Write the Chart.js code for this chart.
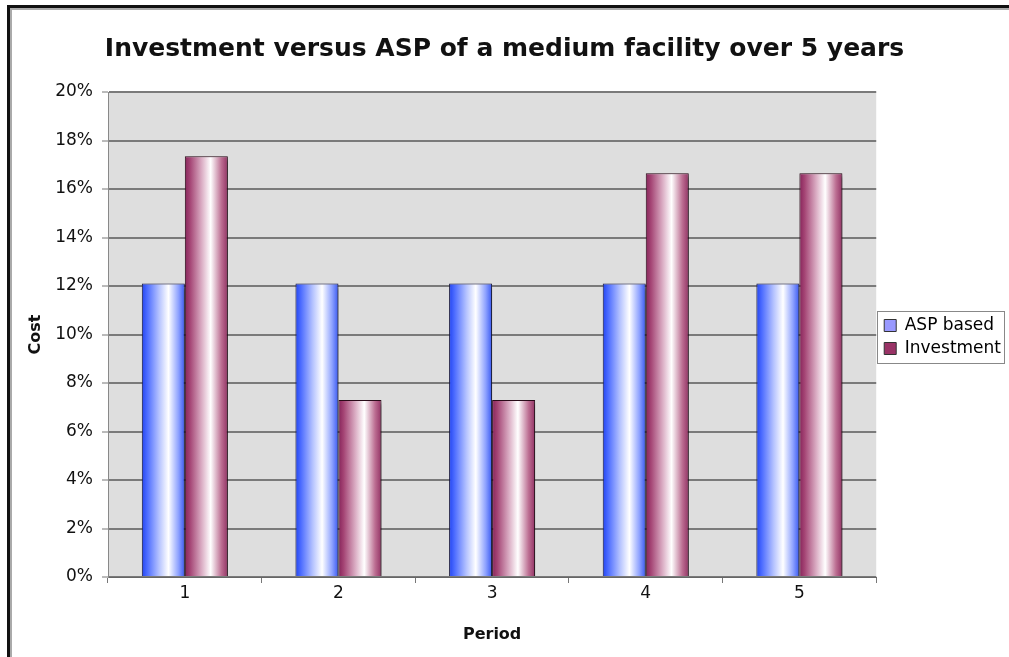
<!DOCTYPE html>
<html>
<head>
<meta charset="utf-8">
<script src="https://cdn.jsdelivr.net/npm/chart.js@4.4.0/dist/chart.umd.min.js"></script>
<style>
  html, body { margin: 0; padding: 0; background: #fff; }
  #frame { position: absolute; left: 7px; top: 5px; width: 1100px; height: 700px;
           border-left: 3px solid #111; border-top: 3px solid #111;
           box-shadow: inset 2px 2px 0 #aaa; }
  #wrap { position: absolute; left: 0; top: 0; width: 1009px; height: 657px; }
</style>
</head>
<body>
<div id="frame"></div>
<div id="wrap"><canvas id="chart" width="1009" height="657"></canvas></div>
<script>
const periods = ['1', '2', '3', '4', '5'];
const aspBased = [12.1, 12.1, 12.1, 12.1, 12.1];
const investment = [17.35, 7.3, 7.3, 16.65, 16.65];
const yTicks = [0, 2, 4, 6, 8, 10, 12, 14, 16, 18, 20];

const catPct = 0.56;
const font = "'DejaVu Sans', Verdana, sans-serif";

// horizontal "cylinder" shading for each bar, worked out from the category scale
function barGradient(stops, flat) {
  return ctx => {
    const chart = ctx.chart;
    const x = chart.scales.x;
    if (ctx.type !== 'data' || !x) return flat;
    const catW = x.width / periods.length;
    const barW = catW * catPct / 2;
    const left = x.getPixelForValue(ctx.dataIndex) - catW * catPct / 2 + ctx.datasetIndex * barW;
    const g = chart.ctx.createLinearGradient(left, 0, left + barW, 0);
    stops.forEach(s => g.addColorStop(s[0], s[1]));
    return g;
  };
}

const blueStops = [[0, '#2244f0'], [0.12, '#4a6aff'], [0.4, '#b4c2ff'], [0.62, '#ffffff'], [0.85, '#8ea2ff'], [1, '#3858f2']];
const plumStops = [[0, '#86245a'], [0.12, '#a44474'], [0.4, '#dcb0c6'], [0.6, '#ffffff'], [0.85, '#bc6e92'], [1, '#923264']];

const plotBg = {
  id: 'plotBg',
  beforeDraw(chart) {
    const { ctx, chartArea: a } = chart;
    ctx.save();
    ctx.fillStyle = '#dedede';
    ctx.fillRect(a.left, a.top, a.right - a.left, a.bottom - a.top);
    ctx.restore();
  }
};

const barShadow = {
  id: 'barShadow',
  beforeDatasetsDraw(chart) {
    const ctx = chart.ctx;
    ctx.save();
    ctx.shadowColor = 'rgba(0,0,0,0.45)';
    ctx.shadowOffsetX = 3;
    ctx.shadowOffsetY = 3;
    ctx.shadowBlur = 4;
  },
  afterDatasetsDraw(chart) {
    chart.ctx.restore();
  }
};

// nudge the legend a little lower, like the original, then frame its items
const legendBox = {
  id: 'legendBox',
  afterLayout(chart) {
    const l = chart.legend;
    l.top += 13; l.bottom += 13;
    l.left += 2; l.right += 2;
  },
  afterDraw(chart) {
    const boxes = chart.legend.legendHitBoxes;
    if (!boxes || !boxes.length) return;
    const left = Math.min(...boxes.map(b => b.left)) - 7;
    const top = Math.min(...boxes.map(b => b.top)) - 6;
    const right = Math.max(...boxes.map(b => b.left + b.width)) + 3;
    const bottom = Math.max(...boxes.map(b => b.top + b.height)) + 6;
    const ctx = chart.ctx;
    ctx.save();
    ctx.strokeStyle = '#888';
    ctx.lineWidth = 1;
    ctx.strokeRect(Math.round(left) + 0.5, Math.round(top) + 0.5, Math.round(right - left), Math.round(bottom - top));
    ctx.restore();
  }
};

new Chart(document.getElementById('chart'), {
  type: 'bar',
  data: {
    labels: periods,
    datasets: [
      { label: 'ASP based', data: aspBased, backgroundColor: barGradient(blueStops, '#9999ff'),
        borderColor: '#1a1a40', borderWidth: 1, categoryPercentage: catPct, barPercentage: 1 },
      { label: 'Investment', data: investment, backgroundColor: barGradient(plumStops, '#993366'),
        borderColor: '#2a0a18', borderWidth: 1, categoryPercentage: catPct, barPercentage: 1 },
    ],
  },
  options: {
    responsive: false,
    animation: false,
    layout: { padding: { left: 0, right: 0, top: 0, bottom: 9 } },
    plugins: {
      title: { display: true, text: 'Investment versus ASP of a medium facility over 5 years',
        color: '#111', font: { family: font, size: 25, weight: 'bold' }, padding: { top: 34, bottom: 28 } },
      legend: {
        position: 'right',
        labels: {
          font: { family: font, size: 17 }, color: '#111', boxWidth: 12, boxHeight: 12, padding: 6,
          generateLabels: () => [
            { text: 'ASP based', fillStyle: '#9999ff', strokeStyle: '#333', lineWidth: 1, datasetIndex: 0 },
            { text: 'Investment', fillStyle: '#993366', strokeStyle: '#333', lineWidth: 1, datasetIndex: 1 },
          ],
        },
      },
      tooltip: { enabled: false },
    },
    scales: {
      x: {
        afterFit: s => { s.height = 71; },
        grid: { drawOnChartArea: false, drawTicks: true, tickLength: 6, color: '#777' },
        border: { color: '#666', width: 1 },
        ticks: { font: { family: font, size: 17 }, color: '#111', padding: 0 },
        title: { display: true, text: 'Period', color: '#111', font: { family: font, size: 16, weight: 'bold' }, padding: { top: 15 } },
      },
      y: {
        min: 0, max: 20,
        afterBuildTicks: s => { s.ticks = yTicks.map(v => ({ value: v })); },
        afterFit: s => { s.width = 108; },
        grid: { color: '#7a7a7a', lineWidth: 2, tickLength: 6, tickColor: '#777', tickWidth: 1 },
        border: { color: '#888', width: 1 },
        ticks: { font: { family: font, size: 17 }, color: '#111', padding: 9, callback: v => v + '%' },
        title: { display: true, text: 'Cost', color: '#111', font: { family: font, size: 16, weight: 'bold' }, padding: { top: 26, bottom: 2 } },
      },
    },
  },
  plugins: [plotBg, barShadow, legendBox],
});
</script>
</body>
</html>
